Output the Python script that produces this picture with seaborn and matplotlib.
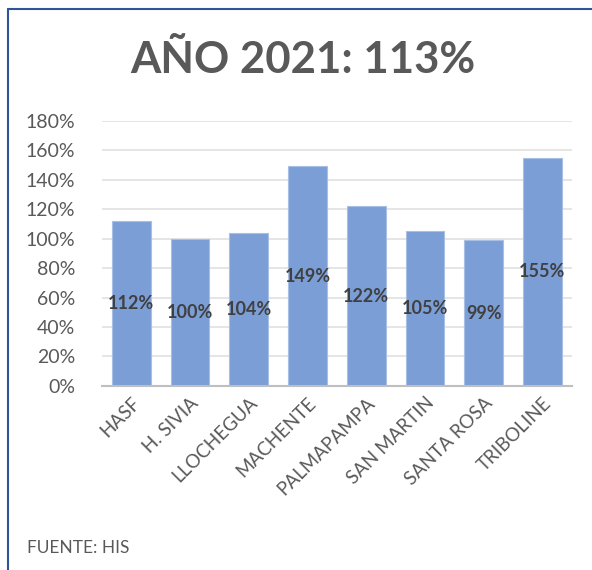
import matplotlib
matplotlib.use("Agg")
import matplotlib.pyplot as plt
from matplotlib.lines import Line2D
from matplotlib.ticker import PercentFormatter
import seaborn as sns
import pandas as pd

# --- data ---
establecimientos = ["HASF", "H. SIVIA", "LLOCHEGUA", "MACHENTE",
                    "PALMAPAMPA", "SAN MARTIN", "SANTA ROSA", "TRIBOLINE"]
avance = [112, 100, 104, 149, 122, 105, 99, 155]
titulo = "AÑO 2021: 113%"
fuente = "FUENTE: HIS"

df = pd.DataFrame({"est": establecimientos, "avance": avance})

sns.set_style("white")
plt.rcParams["font.family"] = ["Lato", "DejaVu Sans"]

fig = plt.figure(figsize=(5.92, 5.70), dpi=100)
ax = fig.add_axes([0.172, 0.323, 0.794, 0.465])

sns.barplot(data=df, x="est", y="avance", color="#7B9ED6", width=0.66,
            saturation=1, edgecolor="#A8BFE6", linewidth=0.8, ax=ax)

# value labels in the middle of each bar
for p, v in zip(ax.patches, avance):
    ax.text(p.get_x() + p.get_width() / 2, v / 2, f"{v}%",
            ha="center", va="center", fontsize=13, fontweight="bold",
            color="#404040")

ax.set_ylim(0, 180)
ax.set_yticks(range(0, 181, 20))
ax.yaxis.set_major_formatter(PercentFormatter(decimals=0))
ax.set_xlim(-0.5, len(avance) - 0.5)
ax.grid(axis="y", color="#e0e0e0", linewidth=1.2)
ax.set_axisbelow(True)
for s in ["top", "right", "left"]:
    ax.spines[s].set_visible(False)
ax.spines["bottom"].set_color("#bfbfbf")
ax.spines["bottom"].set_linewidth(1.5)
ax.tick_params(axis="both", length=0, colors="#595959", labelsize=14)
ax.tick_params(axis="y", pad=19)
ax.tick_params(axis="x", pad=6, labelsize=13.5)
ax.set_xlabel("")
ax.set_ylabel("")
plt.setp(ax.get_xticklabels(), rotation=45, ha="right",
         rotation_mode="anchor")

fig.text(0.512, 0.895, titulo, ha="center", va="center", fontsize=31.5,
         fontweight="bold", color="#595959")
fig.text(0.046, 0.038, fuente, ha="left", va="center", fontsize=12.5,
         color="#595959")

# chart frame (top and left edges visible)
fig.add_artist(Line2D([0.014, 1.0], [0.984, 0.984], color="#2F5597",
                      linewidth=1.5, transform=fig.transFigure))
fig.add_artist(Line2D([0.014, 0.014], [0.0, 0.984], color="#2F5597",
                      linewidth=1.5, transform=fig.transFigure))

fig.savefig("out.png", dpi=100)
